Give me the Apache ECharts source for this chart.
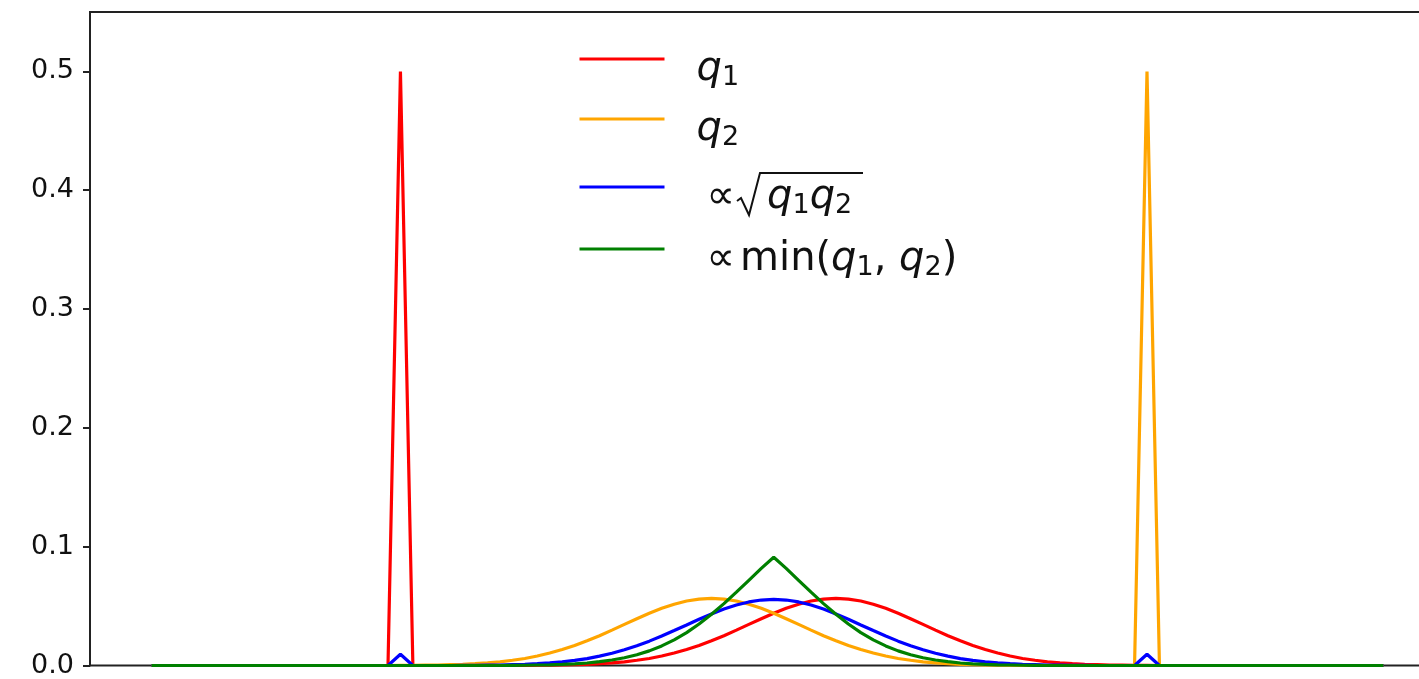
<!DOCTYPE html>
<html>
<head>
<meta charset="utf-8">
<script src="https://cdn.jsdelivr.net/npm/echarts@6.0.0/dist/echarts.min.js"></script>
<style>
    html, body { margin: 0; padding: 0; background: #fff; overflow: hidden; }
    /* the axes box runs past the right edge of the window, as in the picture */
    #chart { width: 1450px; height: 679px; }
</style>
</head>
<body>
<div id="chart"></div>
<script>
// values at the 100 grid points (index 0..99)
var q1 = [
    0, 0, 0, 0, 0, 0, 0, 0, 0, 0,
    0, 0, 0, 0, 0, 0, 0, 0, 0, 0,
    0.5, 0, 0, 0, 0, 0, 0, 0, 0, 0,
    0.0001, 0.0002, 0.0003, 0.0004, 0.0007, 0.0010, 0.0015, 0.0022, 0.0031, 0.0044,
    0.0059, 0.0080, 0.0105, 0.0134, 0.0168, 0.0208, 0.0251, 0.0298, 0.0346, 0.0394,
    0.0440, 0.0481, 0.0516, 0.0543, 0.0559, 0.0565, 0.0559, 0.0543, 0.0516, 0.0481,
    0.0440, 0.0394, 0.0346, 0.0298, 0.0251, 0.0208, 0.0168, 0.0134, 0.0105, 0.0080,
    0.0059, 0.0044, 0.0031, 0.0022, 0.0015, 0.0010, 0.0007, 0.0004, 0.0003, 0.0002,
    0.0001, 0, 0, 0, 0, 0, 0, 0, 0, 0,
    0, 0, 0, 0, 0, 0, 0, 0, 0, 0
];
var q2 = [
    0, 0, 0, 0, 0, 0, 0, 0, 0, 0,
    0, 0, 0, 0, 0, 0, 0, 0, 0, 0,
    0.0001, 0.0002, 0.0003, 0.0004, 0.0007, 0.0010, 0.0015, 0.0022, 0.0031, 0.0044,
    0.0059, 0.0080, 0.0105, 0.0134, 0.0168, 0.0208, 0.0251, 0.0298, 0.0346, 0.0394,
    0.0440, 0.0481, 0.0516, 0.0543, 0.0559, 0.0565, 0.0559, 0.0543, 0.0516, 0.0481,
    0.0440, 0.0394, 0.0346, 0.0298, 0.0251, 0.0208, 0.0168, 0.0134, 0.0105, 0.0080,
    0.0059, 0.0044, 0.0031, 0.0022, 0.0015, 0.0010, 0.0007, 0.0004, 0.0003, 0.0002,
    0.0001, 0, 0, 0, 0, 0, 0, 0, 0, 0,
    0.5, 0, 0, 0, 0, 0, 0, 0, 0, 0,
    0, 0, 0, 0, 0, 0, 0, 0, 0, 0
];
var geoMean = [
    0, 0, 0, 0, 0, 0, 0, 0, 0, 0,
    0, 0, 0, 0, 0, 0, 0, 0, 0, 0,
    0.0095, 0, 0, 0, 0, 0.0001, 0.0002, 0.0003, 0.0004, 0.0007,
    0.0010, 0.0015, 0.0022, 0.0031, 0.0043, 0.0058, 0.0079, 0.0103, 0.0132, 0.0166,
    0.0205, 0.0248, 0.0294, 0.0341, 0.0389, 0.0434, 0.0475, 0.0509, 0.0535, 0.0551,
    0.0557, 0.0551, 0.0535, 0.0509, 0.0475, 0.0434, 0.0389, 0.0341, 0.0294, 0.0248,
    0.0205, 0.0166, 0.0132, 0.0103, 0.0079, 0.0058, 0.0043, 0.0031, 0.0022, 0.0015,
    0.0010, 0.0007, 0.0004, 0.0003, 0.0002, 0.0001, 0, 0, 0, 0,
    0.0095, 0, 0, 0, 0, 0, 0, 0, 0, 0,
    0, 0, 0, 0, 0, 0, 0, 0, 0, 0
];
var minQ = [
    0, 0, 0, 0, 0, 0, 0, 0, 0, 0,
    0, 0, 0, 0, 0, 0, 0, 0, 0, 0,
    0, 0, 0, 0, 0, 0, 0, 0, 0, 0.0001,
    0.0002, 0.0004, 0.0006, 0.0009, 0.0014, 0.0021, 0.0032, 0.0046, 0.0065, 0.0090,
    0.0123, 0.0165, 0.0216, 0.0277, 0.0349, 0.0431, 0.0521, 0.0617, 0.0717, 0.0817,
    0.0911, 0.0817, 0.0717, 0.0617, 0.0521, 0.0431, 0.0349, 0.0277, 0.0216, 0.0165,
    0.0123, 0.0090, 0.0065, 0.0046, 0.0032, 0.0021, 0.0014, 0.0009, 0.0006, 0.0004,
    0.0002, 0.0001, 0, 0, 0, 0, 0, 0, 0, 0,
    0, 0, 0, 0, 0, 0, 0, 0, 0, 0,
    0, 0, 0, 0, 0, 0, 0, 0, 0, 0
];
var yTicks = [0, 0.1, 0.2, 0.3, 0.4, 0.5];
var names = ['q1', 'q2', 'sqrt', 'min'];
var colors = ['#ff0000', '#ffa500', '#0000ff', '#008000'];
var legendY = [66, 126, 194, 256]; // centre of each legend line

var myChart = echarts.init(document.getElementById('chart'));

function pairs(arr) {
    return arr.map(function (v, i) { return [i, v]; });
}

var font = 'DejaVu Sans';
var rich = {
    i: { fontFamily: font, fontStyle: 'italic', fontSize: 40, color: '#111' },
    s: { fontFamily: font, fontSize: 27, color: '#111', padding: [16, 0, 0, 0] },
    n: { fontFamily: font, fontSize: 40, color: '#111' },
    m: { fontFamily: font, fontSize: 40, color: '#111', padding: [0, 0, 0, 5] },
    p: { fontFamily: font, fontSize: 40, color: '#111', padding: [0, 0, 0, 10] },
    g: { fontFamily: font, fontSize: 40, width: 32 }
};
var labels = {
    q1: '{i|q}{s|1}',
    q2: '{i|q}{s|2}',
    sqrt: '{p|∝}{g| }{i|q}{s|1}{i|q}{s|2}',
    min: '{p|∝}{m|min(}{i|q}{s|1}{n|, }{i|q}{s|2}{n|)}'
};

var legends = names.map(function (name, k) {
    return {
        data: [name],
        left: 578,
        top: legendY[k] - 35,
        padding: 0,
        itemWidth: 85,
        itemHeight: 70,
        selectedMode: false,
        itemStyle: { opacity: 0 },
        lineStyle: { width: 3 },
        formatter: function (n) { return labels[n]; },
        textStyle: { rich: rich, padding: [22, 0, 0, 27] }
    };
});

var series = [q1, q2, geoMean, minQ].map(function (arr, k) {
    return {
        name: names[k],
        type: 'line',
        data: pairs(arr),
        symbol: 'none',
        color: colors[k],
        lineStyle: { width: 3.2, color: colors[k] },
        animation: false
    };
});

var option = {
    backgroundColor: '#fff',
    animation: false,
    legend: legends,
    grid: {
        left: 90,
        top: 12,
        right: 5,
        bottom: 8,
        show: true,
        borderColor: '#222',
        borderWidth: 2,
        backgroundColor: 'transparent'
    },
    xAxis: {
        type: 'value',
        min: -4.95,
        max: 103.95,
        axisLine: { show: false },
        axisTick: { show: false },
        axisLabel: { show: false },
        splitLine: { show: false }
    },
    yAxis: {
        type: 'value',
        min: 0,
        max: 0.55,
        axisLine: { show: true, onZero: false, lineStyle: { color: '#222', width: 2 } },
        axisTick: { show: true, length: 7, customValues: yTicks, lineStyle: { color: '#222', width: 2 } },
        axisLabel: {
            customValues: yTicks,
            margin: 16,
            fontFamily: font,
            fontSize: 27,
            color: '#111',
            padding: [9, 0, 0, 0],
            formatter: function (v) { return v.toFixed(1); }
        },
        splitLine: { show: false }
    },
    // radical sign for the sqrt legend entry
    graphic: [{
        type: 'polyline',
        shape: { points: [[737, 201], [741, 198], [749, 215], [760, 173], [863, 173]] },
        style: { stroke: '#111', lineWidth: 2, fill: null },
        z: 100
    }],
    series: series
};
myChart.setOption(option);
</script>
</body>
</html>
